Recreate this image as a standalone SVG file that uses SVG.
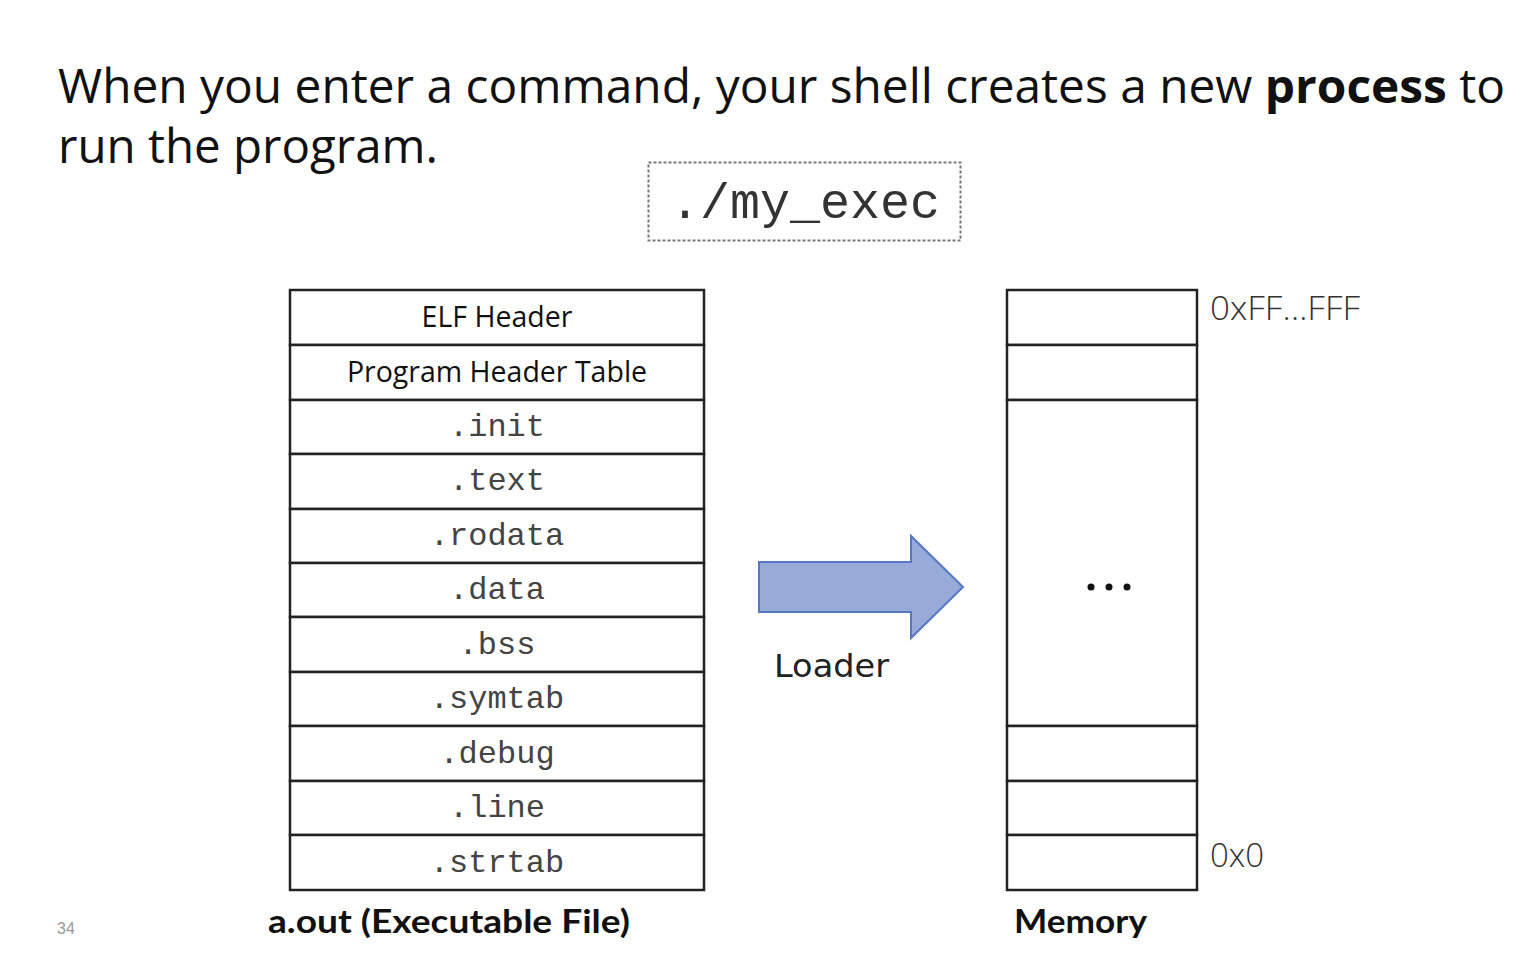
<svg xmlns="http://www.w3.org/2000/svg" width="1540" height="962" viewBox="0 0 1540 962">
<style>
.cell{fill:#fff;stroke:#222;stroke-width:2.5}
.lbl{font-family:"Open Sans","Liberation Sans",sans-serif;font-size:28.5px;fill:#111;text-anchor:middle}
.mono{font-family:"Liberation Mono","DejaVu Sans Mono",monospace;font-size:32px;fill:#444;text-anchor:middle}
.addr{font-family:"Open Sans","Liberation Sans",sans-serif;font-size:33px;fill:#333;font-weight:300}
.cap{font-family:"Lato","Liberation Sans",sans-serif;font-size:33px;font-weight:bold;fill:#111}
</style>
<rect width="1540" height="962" fill="#fff"/>
<g id="title" font-family="'Open Sans','Liberation Sans',sans-serif" font-size="47" fill="#111">
<text x="58" y="103" textLength="1447" lengthAdjust="spacingAndGlyphs">When you enter a command, your shell creates a new <tspan font-weight="bold">process</tspan> to</text>
<text x="58" y="163" textLength="380" lengthAdjust="spacingAndGlyphs">run the program.</text>
</g>
<g id="cmd">
<rect x="648.5" y="162.5" width="312" height="78" fill="none" stroke="#777" stroke-width="2" stroke-dasharray="3,2"/>
<text x="805" y="218" font-family="'Liberation Mono',monospace" font-size="50" fill="#333" text-anchor="middle">./my_exec</text>
</g>
<g id="elf">
<rect class="cell" x="290" y="290" width="414" height="55"/>
<text class="lbl" x="497" y="327">ELF Header</text>
<rect class="cell" x="290" y="345" width="414" height="55"/>
<text class="lbl" x="497" y="382">Program Header Table</text>
<rect class="cell" x="290" y="400" width="414" height="54"/>
<text class="mono" x="497" y="436">.init</text>
<rect class="cell" x="290" y="454" width="414" height="55"/>
<text class="mono" x="497" y="490">.text</text>
<rect class="cell" x="290" y="509" width="414" height="54"/>
<text class="mono" x="497" y="545">.rodata</text>
<rect class="cell" x="290" y="563" width="414" height="54"/>
<text class="mono" x="497" y="599">.data</text>
<rect class="cell" x="290" y="617" width="414" height="55"/>
<text class="mono" x="497" y="654">.bss</text>
<rect class="cell" x="290" y="672" width="414" height="54"/>
<text class="mono" x="497" y="708">.symtab</text>
<rect class="cell" x="290" y="726" width="414" height="55"/>
<text class="mono" x="497" y="763">.debug</text>
<rect class="cell" x="290" y="781" width="414" height="54"/>
<text class="mono" x="497" y="817">.line</text>
<rect class="cell" x="290" y="835" width="414" height="55"/>
<text class="mono" x="497" y="872">.strtab</text>
<text class="cap" x="268" y="933" textLength="362" lengthAdjust="spacingAndGlyphs">a.out (Executable File)</text>
</g>
<g id="memory">
<rect class="cell" x="1007" y="290" width="190" height="55"/>
<rect class="cell" x="1007" y="345" width="190" height="55"/>
<rect class="cell" x="1007" y="400" width="190" height="326"/>
<rect class="cell" x="1007" y="726" width="190" height="55"/>
<rect class="cell" x="1007" y="781" width="190" height="54"/>
<rect class="cell" x="1007" y="835" width="190" height="55"/>
<circle cx="1091" cy="587" r="3.5" fill="#111"/>
<circle cx="1109" cy="587" r="3.5" fill="#111"/>
<circle cx="1127" cy="587" r="3.5" fill="#111"/>
<text class="addr" x="1210" y="320" textLength="150" lengthAdjust="spacingAndGlyphs">0xFF…FFF</text>
<text class="addr" x="1210" y="867">0x0</text>
<text class="cap" x="1014" y="933" textLength="133" lengthAdjust="spacingAndGlyphs">Memory</text>
</g>
<g id="connectors">
<polygon points="759,562 911,562 911,536 963,587 911,638 911,612 759,612" fill="#98abd8" stroke="#5677c4" stroke-width="2"/>
<text x="774" y="677" font-family="'DejaVu Sans','Liberation Sans',sans-serif" font-size="32" fill="#222" textLength="115" lengthAdjust="spacingAndGlyphs">Loader</text>
</g>
<text x="57" y="934" font-family="'Liberation Sans',sans-serif" font-size="16" fill="#999">34</text>
</svg>
